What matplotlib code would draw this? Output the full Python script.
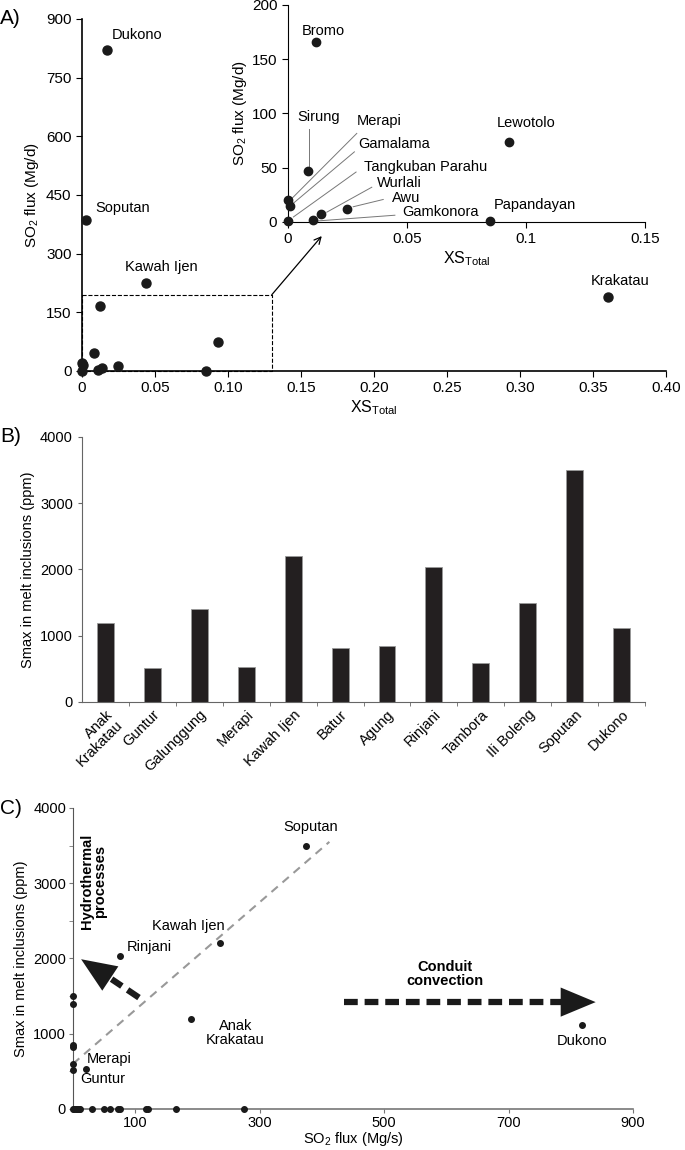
import matplotlib
matplotlib.use("Agg")
import matplotlib.pyplot as plt
from matplotlib.patches import ConnectionPatch

plt.rcParams['font.family'] = ['Liberation Sans', 'DejaVu Sans']
plt.rcParams['mathtext.default'] = 'regular'
plt.rcParams['font.size'] = 10

# panel A: excess sulfur vs SO2 flux
volc_a = ['Dukono', 'Soputan', 'Kawah Ijen', 'Krakatau', 'Bromo', 'Lewotolo', 'Sirung',
          'Merapi', 'Gamalama', 'Tangkuban Parahu', 'Wurlali', 'Awu', 'Gamkonora', 'Papandayan']
xs_total = [0.017, 0.003, 0.044, 0.360, 0.012, 0.093, 0.0085,
            0.0, 0.001, 0.0, 0.014, 0.025, 0.0107, 0.085]
so2_a = [820, 385, 225, 190, 166, 74, 47, 20, 15, 1, 7, 12, 2, 1]

# panel B: Smax in melt inclusions
volc_b = ['Anak\nKrakatau', 'Guntur', 'Galunggung', 'Merapi', 'Kawah Ijen', 'Batur', 'Agung',
          'Rinjani', 'Tambora', 'Ili Boleng', 'Soputan', 'Dukono']
smax = [1190, 515, 1400, 530, 2200, 820, 850, 2030, 595, 1495, 3500, 1120]

# panel C: SO2 flux vs Smax
so2_c = [190, 0, 0, 21, 237, 0, 0, 75, 0, 0, 374, 818]
smax_c = smax
# volcanoes with flux but no melt inclusion data
so2_nodata = [0, 2, 4, 6, 8, 10, 12, 31, 49, 60, 72, 75, 117, 120, 165, 274]
trend_x = [0, 412]
trend_y = [600, 3550]

fig = plt.figure(figsize=(6.85, 11.5), dpi=100)

# ---------------- A ----------------
axA = fig.add_axes([0.1197, 0.6774, 0.8526, 0.3061])
axA.plot(xs_total, so2_a, 'o', color='#1a1a1a', ms=6.5, clip_on=False, zorder=3)
axA.set_xlim(0, 0.40)
axA.set_ylim(0, 900)
axA.set_xticks([0, 0.05, 0.10, 0.15, 0.20, 0.25, 0.30, 0.35, 0.40])
axA.set_xticklabels(['0', '0.05', '0.10', '0.15', '0.20', '0.25', '0.30', '0.35', '0.40'])
axA.set_yticks(range(0, 901, 150))
for s in ['top', 'right']:
    axA.spines[s].set_visible(False)
axA.spines['left'].set_linewidth(1.2)
axA.spines['bottom'].set_linewidth(1.2)
axA.tick_params(labelsize=11, length=4)
axA.set_xlabel(r'XS$_{Total}$', fontsize=11.5, labelpad=2)
axA.set_ylabel(r'SO$_2$ flux (Mg/d)', fontsize=11)
axA.text(0.0203, 860, 'Dukono', fontsize=10.5, va='center')
axA.text(0.0089, 416, 'Soputan', fontsize=10.5, va='center')
axA.text(0.0295, 267, 'Kawah Ijen', fontsize=10.5, va='center')
axA.text(0.3685, 231, 'Krakatau', fontsize=10.5, va='center', ha='center')
axA.plot([0, 0.13, 0.13, 0, 0], [195, 195, 0, 0, 195], ls='--', lw=0.8, color='k', clip_on=False)
fig.text(0.0, 0.984, 'A)', fontsize=15, va='center')

# inset
axI = fig.add_axes([0.42, 0.807, 0.5216, 0.1887])
axI.plot(xs_total[4:], so2_a[4:], 'o', color='#1a1a1a', ms=6, clip_on=False, zorder=3)
axI.set_xlim(0, 0.15)
axI.set_ylim(0, 200)
axI.set_xticks([0, 0.05, 0.1, 0.15])
axI.set_xticklabels(['0', '0.05', '0.1', '0.15'])
axI.set_yticks(range(0, 201, 50))
for s in ['top', 'right']:
    axI.spines[s].set_visible(False)
axI.tick_params(labelsize=11, length=4)
axI.set_xlabel(r'XS$_{Total}$', fontsize=11.5, labelpad=2)
axI.set_ylabel(r'SO$_2$ flux (Mg/d)', fontsize=11, labelpad=2)
axI.text(0.0149, 176, 'Bromo', fontsize=10.5, ha='center', va='center')
axI.text(0.1003, 91, 'Lewotolo', fontsize=10.5, ha='center', va='center')
axI.text(0.0128, 97, 'Sirung', fontsize=10.5, ha='center', va='center')
axI.text(0.029, 93, 'Merapi', fontsize=10.5, va='center')
axI.text(0.0296, 72, 'Gamalama', fontsize=10.5, va='center')
axI.text(0.032, 51, 'Tangkuban Parahu', fontsize=10.5, va='center')
axI.text(0.0374, 36, 'Wurlali', fontsize=10.5, va='center')
axI.text(0.0439, 22.5, 'Awu', fontsize=10.5, va='center')
axI.text(0.0481, 9, 'Gamkonora', fontsize=10.5, va='center')
axI.text(0.0863, 16, 'Papandayan', fontsize=10.5, va='center')
# leader lines
leaders = [((0.0091, 86), (0.0091, 52)),
           ((0.029, 81.6), (0.001, 20)),
           ((0.028, 64.6), (0.0017, 16)),
           ((0.0287, 46), (0.0024, 4.6)),
           ((0.0353, 32), (0.0164, 9)),
           ((0.0401, 20.7), (0.0275, 14)),
           ((0.045, 6.2), (0.0129, 1))]
for (x0, y0), (x1, y1) in leaders:
    axI.plot([x0, x1], [y0, y1], color='#777777', lw=0.7)

con = ConnectionPatch(xyA=(0.13, 195), coordsA=axA.transData,
                      xyB=(0.0143, -13), coordsB=axI.transData,
                      arrowstyle='->', lw=0.9, color='k', mutation_scale=12)
fig.add_artist(con)

# ---------------- B ----------------
axB = fig.add_axes([0.1197, 0.3896, 0.822, 0.2304])
axB.bar(range(len(volc_b)), smax, width=0.36, color='#231f20', edgecolor='#999999', lw=0.6)
axB.set_xlim(-0.5, len(volc_b) - 0.5)
axB.set_ylim(0, 4000)
axB.set_yticks(range(0, 4001, 1000))
axB.set_xticks(range(len(volc_b)))
axB.set_xticklabels(volc_b, rotation=45, ha='right', rotation_mode='anchor',
                    fontsize=10.5, linespacing=1.0)
axB.set_xticks([i + 0.5 for i in range(len(volc_b))], minor=True)
for s in ['top', 'right']:
    axB.spines[s].set_visible(False)
axB.spines['left'].set_color('#666666')
axB.spines['bottom'].set_color('#666666')
axB.tick_params(axis='x', which='major', length=0, pad=4)
axB.tick_params(axis='x', which='minor', length=3, color='#666666')
axB.tick_params(axis='y', labelsize=10.5, length=3, color='#666666')
axB.set_ylabel('Smax in melt inclusions (ppm)', fontsize=10.5)
fig.text(0.0, 0.62, 'B)', fontsize=15, va='center')

# ---------------- C ----------------
axC = fig.add_axes([0.1066, 0.0357, 0.8175, 0.2617])
axC.plot(trend_x, trend_y, ls='--', color='#999999', lw=1.5, dashes=(4, 3))
axC.plot(so2_c, smax_c, 'o', color='#1a1a1a', ms=4, clip_on=False, zorder=3)
axC.plot(so2_nodata, [0] * len(so2_nodata), 'o', color='#1a1a1a', ms=4, clip_on=False, zorder=3)
axC.set_xlim(0, 900)
axC.set_ylim(0, 4000)
axC.set_xticks([100, 300, 500, 700, 900])
axC.set_yticks(range(0, 4001, 1000))
axC.set_yticks(range(500, 4000, 1000), minor=True)
for s in ['top', 'right']:
    axC.spines[s].set_visible(False)
axC.spines['left'].set_color('#555555')
axC.spines['bottom'].set_color('#777777')
axC.spines['bottom'].set_linewidth(1.2)
axC.tick_params(labelsize=10.5, length=3, color='#777777', pad=2)
axC.tick_params(which='minor', length=3, color='#777777')
axC.set_xlabel(r'SO$_2$ flux (Mg/s)', fontsize=10.5, labelpad=0)
axC.set_ylabel('Smax in melt inclusions (ppm)', fontsize=10.5)

axC.text(382, 3747, 'Soputan', fontsize=10.5, ha='center', va='center')
axC.text(186, 2431, 'Kawah Ijen', fontsize=10.5, ha='center', va='center')
axC.text(87, 2147, 'Rinjani', fontsize=10.5, va='center')
axC.text(261, 1013, 'Anak\nKrakatau', fontsize=10.5, ha='center', va='center', linespacing=1.0)
axC.text(818, 907, 'Dukono', fontsize=10.5, ha='center', va='center')
axC.text(22, 667, 'Merapi', fontsize=10.5, va='center')
axC.text(11, 400, 'Guntur', fontsize=10.5, va='center')

axC.text(33, 3030, 'Hydrothermal\nprocesses', fontsize=10.5, fontweight='bold',
         rotation=90, ha='center', va='center', linespacing=1.0)
axC.text(597, 1787, 'Conduit\nconvection', fontsize=10.5, fontweight='bold',
         ha='center', va='center', linespacing=1.0)

# dashed shafts + solid heads
head = dict(arrowstyle='-|>,head_length=1.8,head_width=0.75', lw=0,
            color='#1a1a1a', mutation_scale=14, shrinkA=0, shrinkB=0)
axC.plot([106, 62], [1480, 1725], color='#1a1a1a', lw=4.5, dashes=(2.2, 1.1),
         solid_capstyle='butt')
axC.annotate('', xy=(13, 1990), xytext=(60, 1733), arrowprops=head)
axC.plot([436, 788], [1420, 1420], color='#1a1a1a', lw=4.5, dashes=(2.2, 1.1),
         solid_capstyle='butt')
axC.annotate('', xy=(840, 1420), xytext=(784, 1420), arrowprops=head)
fig.text(0.0, 0.297, 'C)', fontsize=15, va='center')

fig.savefig('out.png', dpi=100)
